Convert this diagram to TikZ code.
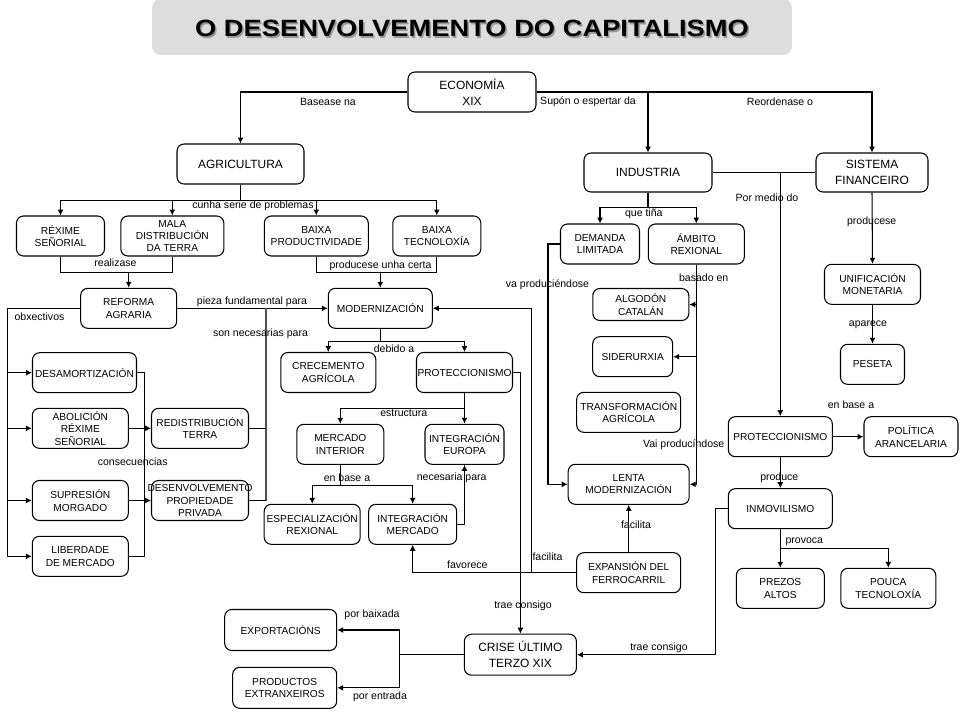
\documentclass[tikz,border=0pt]{standalone}
\usepackage{fontspec}
\setmainfont{Liberation Sans}
\usepackage{graphicx}
\usetikzlibrary{arrows.meta}

\definecolor{titlegray}{RGB}{221,221,221}
\definecolor{linegray}{RGB}{80,80,80}

\tikzset{
  box/.style={draw, rounded corners=4pt, line width=0.6pt, align=center, inner sep=0.5pt, minimum height=0.8cm, font=\fontsize{5.8}{7.1}\selectfont},
  bigbox/.style={box, font=\fontsize{6.8}{9.2}\selectfont},
  lbl/.style={inner sep=0pt, font=\fontsize{6}{7}\selectfont},
  link/.style={line width=0.6pt},
  arr/.style={link, -{Latex[length=3.4pt,width=3.4pt]}},
  grayline/.style={line width=1.1pt, linegray}
}

\begin{document}
\begin{tikzpicture}[x=0.02cm,y=-0.02cm]
\useasboundingbox (0,0) rectangle (960,720);

% title
\node[fill=titlegray, rounded corners=5pt, minimum width=12.8cm, minimum height=1.12cm] (titlebox) at (472,27) {};
\node[text=gray!80, font=\bfseries\fontsize{13.4}{15}\selectfont] (titleshadow) at (473.5,29.9) {\scalebox{1.16}[1]{O DESENVOLVEMENTO DO CAPITALISMO}};
\node[font=\bfseries\fontsize{13.4}{15}\selectfont] (title) at (472,28.4) {\scalebox{1.16}[1]{O DESENVOLVEMENTO DO CAPITALISMO}};

% top level
\node[bigbox, minimum width=2.56cm] (eco) at (472,92) {ECONOMÍA\\XIX};
\node[bigbox, minimum width=2.54cm] (agri) at (240.5,164) {AGRICULTURA};
\node[bigbox, minimum width=2.56cm, minimum height=0.78cm] (ind) at (648,172.5) {INDUSTRIA};
\node[bigbox, minimum width=2.24cm, minimum height=0.78cm] (sis) at (872,172.5) {SISTEMA\\FINANCEIRO};

\draw[arr] (eco.west) -| (agri.north);
\draw[arr] (eco.east) -| (sis.north);
\draw[arr] (ind.north |- eco.east) -- (ind.north);
\draw (328,101.7) node[lbl] (lbasease) {Basease na}
      (588,101.7) node[lbl] (lsupon) {Supón o espertar da}
      (780,101.7) node[lbl] (lreord) {Reordenase o};

% agriculture
\node[box, minimum width=1.76cm] (rex) at (60.5,236) {RÉXIME\\SEÑORIAL};
\node[box, minimum width=2.06cm] (mala) at (172.3,236) {MALA\\DISTRIBUCIÓN\\DA TERRA};
\node[box, minimum width=2.08cm] (bprod) at (316.3,236) {BAIXA\\PRODUCTIVIDADE};
\node[box, minimum width=1.76cm] (btec) at (436.8,236) {BAIXA\\TECNOLOXÍA};

\draw[link] (agri.south) -- ++(0,16) coordinate (agrib);
\draw[arr] (agrib) -| (rex.north);
\draw[arr] (agrib) -| (mala.north);
\draw[arr] (agrib) -| (bprod.north);
\draw[arr] (agrib) -| (btec.north);
\draw (253,205.3) node[lbl] (lcunha) {cunha serie de problemas};

\node[box, minimum width=1.92cm] (ref) at (128.7,308.3) {REFORMA\\AGRARIA};
\node[box, minimum width=2.08cm] (mod) at (380.3,308.3) {MODERNIZACIÓN};

\draw[link] (rex.south) -- ++(0,16) coordinate (rexb) -| (mala.south);
\draw[arr] (rexb -| ref.north) -- (ref.north);
\draw[link] (bprod.south) -- ++(0,16) coordinate (bprodb) -| (btec.south);
\draw[arr] (bprodb -| mod.north) -- (mod.north);
\draw (115.5,262.3) node[lbl] (lreal) {realizase}
      (380.5,265.7) node[lbl] (lprodu) {producese unha certa};

% reforma agraria
\node[box, minimum width=2.08cm] (desam) at (84.5,372.7) {DESAMORTIZACIÓN};
\node[box, minimum width=1.92cm] (abol) at (80.3,428.3) {ABOLICIÓN\\RÉXIME\\SEÑORIAL};
\node[box, minimum width=1.92cm] (supr) at (80.3,500.5) {SUPRESIÓN\\MORGADO};
\node[box, minimum width=1.92cm] (lib) at (80.3,556.3) {LIBERDADE\\DE MERCADO};
\node[box, minimum width=1.94cm] (redis) at (200,428.3) {REDISTRIBUCIÓN\\TERRA};
\node[box, minimum width=1.94cm] (desen) at (200,500.5) {\makebox[0pt]{DESENVOLVEMENTO}\\PROPIEDADE\\PRIVADA};

\draw[link] (ref.west) -- ++(-72.4,0) coordinate (obx);
\draw[arr] (obx) |- (desam.west);
\draw[arr] (obx) |- (abol.west);
\draw[arr] (obx) |- (supr.west);
\draw[arr] (obx) |- (lib.west);
\draw[link] (desam.east) -- ++(7.3,0) coordinate (cons) |- (lib.east);
\draw[arr] (abol.east) -- (redis.west);
\draw[arr] (supr.east) -- (desen.west);
\draw (39.5,316.7) node[lbl] (lobx) {obxectivos}
      (132.7,461.7) node[lbl] (lcons) {consecuencias};

\draw[arr] (ref.east) -- (mod.west);
\coordinate (nec) at (266,308.3);
\draw[grayline] (nec) -- (nec |- desen.east);
\draw[link] (redis.east) -- (redis.east -| nec);
\draw[link] (desen.east) -- (desen.east -| nec);
\draw (252,301.7) node[lbl] (lpieza) {pieza fundamental para}
      (260.5,333.3) node[lbl] (lson) {son necesarias para};

% modernizacion
\node[box, minimum width=1.9cm] (crec) at (328.3,372.5) {CRECEMENTO\\AGRÍCOLA};
\node[box, minimum width=1.92cm] (prot1) at (464.5,372.5) {PROTECCIONISMO};
\node[box, minimum width=1.74cm] (merc) at (340.3,444.3) {MERCADO\\INTERIOR};
\node[box, minimum width=1.58cm] (inteu) at (464.5,444.3) {INTEGRACIÓN\\EUROPA};
\node[box, minimum width=1.92cm] (espec) at (312.2,524.3) {ESPECIALIZACIÓN\\REXIONAL};
\node[box, minimum width=1.76cm] (intm) at (412.7,524.3) {INTEGRACIÓN\\MERCADO};

\draw[link] (mod.south) -- ++(0,12.4) coordinate (modb);
\draw[arr] (modb) -| (crec.north);
\draw[arr] (modb) -| (prot1.north);
\draw[link] (prot1.south) -- ++(0,15.4) coordinate (protb);
\draw[arr] (protb) -| (merc.north);
\draw[arr] (protb) -- (inteu.north);
\draw[link] (merc.south) -- ++(0,20.7) coordinate (mercb);
\draw[arr] (mercb) -| (espec.north);
\draw[arr] (mercb) -| (intm.north);
\draw[arr] (intm.east) -| (inteu.south);
\draw (394,349) node[lbl] (ldebido) {debido a}
      (403.7,413.3) node[lbl] (lestr) {estructura}
      (347,477.3) node[lbl] (lenbase) {en base a}
      (451.7,477.3) node[lbl] (lnecp) {necesaria para};

% industria
\node[box, minimum width=1.58cm] (dem) at (600,244) {DEMANDA\\LIMITADA};
\node[box, minimum width=1.92cm] (amb) at (696.3,244) {ÁMBITO\\REXIONAL};
\node[box, minimum width=1.92cm, minimum height=0.64cm] (alg) at (640.8,304.5) {ALGODÓN\\CATALÁN};
\node[box, minimum width=1.6cm] (sid) at (632.7,356.7) {SIDERURXIA};
\node[box, minimum width=2.08cm] (transf) at (628.7,412.3) {TRANSFORMACIÓN\\AGRÍCOLA};
\node[box, minimum width=2.42cm] (lenta) at (628.7,484.3) {LENTA\\MODERNIZACIÓN};
\node[box, minimum width=2.08cm] (exp) at (628.7,572.7) {EXPANSIÓN DEL\\FERROCARRIL};

\draw[link] (ind.south) -- ++(0,15.3) coordinate (indb);
\draw[arr] (indb) -| (dem.north);
\draw[arr] (indb) -| (amb.north);
\draw[arr] (dem.west) -- ++(-12,0) |- (lenta.west);
\draw[arr] (amb.south) |- (lenta.east);
\draw[arr] (amb.south |- alg.east) -- (alg.east);
\draw[arr] (amb.south |- sid.east) -- (sid.east);
\draw[arr] (exp.north) -- (lenta.south);
\draw[arr] (exp.west) -| (intm.south);
\coordinate (fac) at (531.7,572.7);
\draw[arr] (fac) |- (mod.east);
\draw (643.8,214) node[lbl] (lque) {que tiña}
      (547.5,285) node[lbl] (lvaprod) {va produciéndose}
      (703.7,277.3) node[lbl] (lbasado) {basado en}
      (683.7,445) node[lbl] (lvai) {Vai producíndose}
      (636,525) node[lbl] (lfacil2) {facilita}
      (547.5,556.7) node[lbl] (lfacil1) {facilita}
      (467.3,565) node[lbl] (lfavor) {favorece};

% sistema financeiro
\node[box, minimum width=1.92cm] (unif) at (872.5,284.3) {UNIFICACIÓN\\MONETARIA};
\node[box, minimum width=1.28cm] (pes) at (872.5,364.3) {PESETA};
\node[box, minimum width=2.08cm] (prot2) at (780.3,436.7) {PROTECCIONISMO};
\node[box, minimum width=1.88cm] (pol) at (911,436.7) {POLÍTICA\\ARANCELARIA};
\node[box, minimum width=2.08cm] (inmov) at (780.3,508.7) {INMOVILISMO};
\node[box, minimum width=1.76cm] (prez) at (780.3,588.3) {PREZOS\\ALTOS};
\node[box, minimum width=1.9cm] (pouca) at (888.3,588.3) {POUCA\\TECNOLOXÍA};

\draw[link] (ind.east) -- (sis.west);
\draw[arr] (prot2.north |- ind.east) -- (prot2.north);
\draw[arr] (sis.south) -- (unif.north);
\draw[arr] (unif.south) -- (pes.north);
\draw[arr] (prot2.east) -- (pol.west);
\draw[arr] (prot2.south) -- (inmov.north);
\draw[link] (inmov.south) -- ++(0,19.6) coordinate (inmovb);
\draw[arr] (inmovb) -- (prez.north);
\draw[arr] (inmovb) -| (pouca.north);
\draw (767,197.7) node[lbl] (lmedio) {Por medio do}
      (871.7,221.7) node[lbl] (lprodse) {producese}
      (868,325) node[lbl] (lapar) {aparece}
      (851,405) node[lbl] (lenbase2) {en base a}
      (779.3,477.7) node[lbl] (lproduce) {produce}
      (804.3,541.7) node[lbl] (lprovoca) {provoca};

% crise
\node[bigbox, minimum width=2.24cm, minimum height=0.82cm] (crise) at (520.4,654.7) {CRISE ÚLTIMO\\TERZO XIX};
\node[box, minimum width=2.24cm, minimum height=0.82cm] (expo) at (280.7,630) {EXPORTACIÓNS};
\node[box, minimum width=2.08cm, minimum height=0.82cm] (prod) at (284.7,687.8) {PRODUCTOS\\EXTRANXEIROS};

\draw[arr] (prot1.east) -| (crise.north);
\draw[arr] (inmov.west) -- ++(-12.3,0) |- (crise.east);
\draw[link] (crise.west) -- ++(-64,0) coordinate (crw);
\draw[arr] (crw) |- (expo.east);
\draw[arr] (crw) |- (prod.east);
\draw (523,605.3) node[lbl] (ltrae1) {trae consigo}
      (659,648.2) node[lbl] (ltrae2) {trae consigo}
      (372,614.4) node[lbl] (lbaix) {por baixada}
      (380,697) node[lbl] (lentr) {por entrada};

\end{tikzpicture}
\end{document}
